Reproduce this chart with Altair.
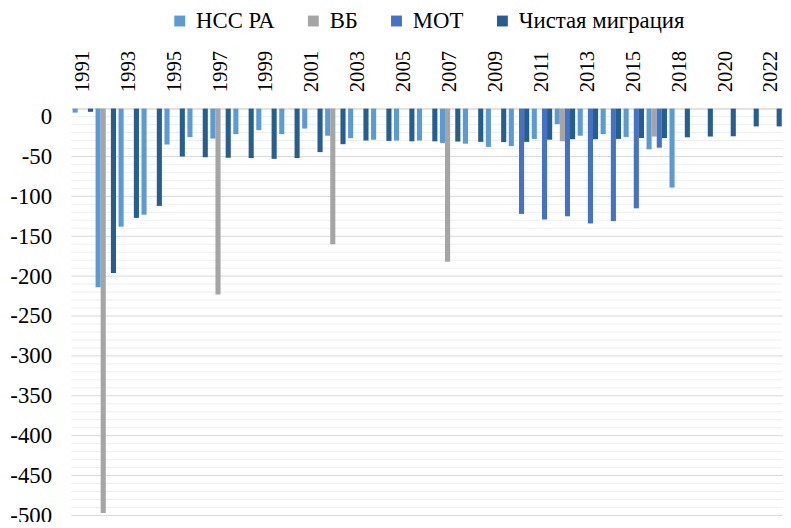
import altair as alt
import pandas as pd

years = ["1991", "1992", "1993", "1994", "1995", "1996", "1997", "1998", "1999", "2000",
         "2001", "2002", "2003", "2004", "2005", "2006", "2007", "2008", "2009", "2010",
         "2011", "2012", "2013", "2014", "2015", "2017", "2018", "2019", "2020", "2021", "2022"]

label_years = ["1991", "1993", "1995", "1997", "1999", "2001", "2003", "2005", "2007",
               "2009", "2011", "2013", "2015", "2018", "2020", "2022"]

series = ["НСС РА", "ВБ", "МОТ", "Чистая миграция"]
colors = ["#5B9BD5", "#A5A5A5", "#4472C4", "#255E91"]

nss = [5, -214, -138, -123, -35, -25.5, -27.6, -22, -17, -22,
       -15, -24, -27, -29, -30, -30, -33, -34, -38, -37,
       -28, -9.5, -24, -22, -25.5, -41, -89, None, None, None, None]

wb = [None, -497, None, None, None, None, -223, None, None, None,
      None, -160, None, None, None, None, -182, None, None, None,
      None, -31, None, None, None, -25, None, None, None, None, None]

ilo = [None, None, None, None, None, None, None, None, None, None,
       None, None, None, None, None, None, None, None, None, -122,
       -129, -125, -134, -131, -115, -39, None, None, None, None, None]

net = [6, -196, -127, -112, -50, -51, -51.6, -52, -53, -52,
       -44.5, -34.6, -30, -30.5, -31, -31, -31.3, -31.7, -32, -31.7,
       -29, -28.4, -28.4, -28, -26.8, -27, -26, -25, -24.7, -12.3, -12.3]

y_ticks = [0, -50, -100, -150, -200, -250, -300, -350, -400, -450, -500]

rows = []
for name, vals in zip(series, [nss, wb, ilo, net]):
    for yr, v in zip(years, vals):
        if v is not None:
            rows.append({"year": yr, "series": name, "value": v})
df = pd.DataFrame(rows)

major = pd.DataFrame({"value": [v for v in y_ticks if v != 0]})
minor = pd.DataFrame({"value": [v for v in range(-490, 10, 10) if v % 50 != 0 or v == 0]})

FONT = "Liberation Serif"
yscale = alt.Scale(domain=[-500, 10], nice=False, zero=False)
yaxis = alt.Axis(values=y_ticks, labelFont=FONT, labelFontSize=23,
                 labelColor="black", labelPadding=20, ticks=False,
                 domain=False, grid=False, title=None,
                 labelExpr="datum.value == 0 ? '0' : '-' + abs(datum.value)")

grid_minor = alt.Chart(minor).mark_rule(color="#efefef", strokeWidth=1).encode(
    y=alt.Y("value:Q", scale=yscale, axis=yaxis)
)
grid_major = alt.Chart(major).mark_rule(color="#d9d9d9", strokeWidth=1).encode(
    y=alt.Y("value:Q", scale=yscale, axis=yaxis)
)

xaxis = alt.Axis(orient="top", values=label_years, labelAngle=-90,
                 labelFont=FONT, labelFontSize=21, labelColor="black",
                 labelPadding=17, ticks=False, domain=True,
                 domainColor="#d9d9d9", domainWidth=1.5, grid=False,
                 labelOverlap=False, title=None)

bars = alt.Chart(df).mark_bar().encode(
    x=alt.X("year:N", sort=years,
            scale=alt.Scale(domain=years, paddingInner=0.11, paddingOuter=0.055),
            axis=xaxis),
    xOffset=alt.XOffset("series:N", sort=series,
                        scale=alt.Scale(domain=series, paddingInner=0, paddingOuter=0)),
    y=alt.Y("value:Q", scale=yscale, axis=yaxis),
    y2=alt.datum(10),
    color=alt.Color("series:N", sort=series,
                    scale=alt.Scale(domain=series, range=colors),
                    legend=alt.Legend(orient="none", legendX=98, legendY=-100,
                                      direction="horizontal", title=None,
                                      symbolType="square", symbolSize=121,
                                      symbolStrokeWidth=0, symbolOpacity=1,
                                      labelFont=FONT, labelFontSize=23,
                                      labelColor="black", labelOffset=5,
                                      labelLimit=400, columnPadding=27,
                                      gridAlign="none")),
)

chart = alt.layer(grid_minor, grid_major, bars).properties(
    width=719, height=411,
    autosize=alt.AutoSizeParams(type="none"),
    padding={"left": 64, "top": 99, "right": 0, "bottom": 4},
).configure(font=FONT).configure_view(stroke=None).configure_axisTop(
    labelAngle=-90, labelFont=FONT, labelFontSize=21, labelColor="black"
).configure_axisLeft(
    labelFont=FONT, labelFontSize=23, labelColor="black"
).configure_legend(
    labelFont=FONT, labelFontSize=23, labelColor="black", labelLimit=400
)

chart.save("out.html", embed_options={"renderer": "svg", "actions": False})
